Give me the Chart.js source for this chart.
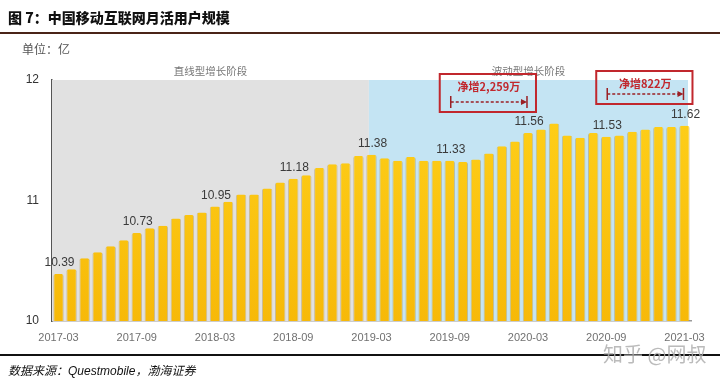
<!DOCTYPE html>
<html lang="zh">
<head>
<meta charset="UTF-8">
<title>中国移动互联网月活用户规模</title>
<style>
    body {
        margin: 0;
        background: #fff;
        font-family: "Noto Sans CJK SC", "Liberation Sans", sans-serif;
    }
    .wrap {
        position: relative;
        width: 720px;
        height: 386px;
        overflow: hidden;
    }
    #mauChart { position: absolute; left: 0; top: 0; }
    .title {
        position: absolute; left: 8px; top: 7px;
        font-size: 14px; font-weight: 900; color: #111;
        font-family: "Noto Sans CJK SC", sans-serif;
    }
    .title-rule {
        position: absolute; left: 0; top: 32px;
        width: 720px; height: 2px; background: #4a2418;
    }
    .unit {
        position: absolute; left: 22px; top: 40px;
        font-size: 12px; color: #555;
    }
    .foot-rule {
        position: absolute; left: 0; top: 354px;
        width: 720px; height: 1.5px; background: #111;
    }
    .source {
        position: absolute; left: 8px; top: 361px;
        font-size: 12px; font-style: italic; color: #111;
    }
    .source b { font-family: "Liberation Sans", sans-serif; font-weight: normal; }
    .mark {
        position: absolute; left: 603px; top: 339px;
        font-size: 20px; color: rgba(175, 175, 175, 0.85);
    }
</style>
<script src="https://cdn.jsdelivr.net/npm/chart.js"></script>
</head>
<body>
<div class="wrap">
    <canvas id="mauChart" width="720" height="386"></canvas>
    <div class="title">图 7：中国移动互联网月活用户规模</div>
    <div class="title-rule"></div>
    <div class="unit">单位：亿</div>
    <div class="foot-rule"></div>
    <div class="source">数据来源：<b>Questmobile</b>，渤海证券</div>
    <div class="mark">知乎 @网叔</div>
</div>

<script>
    // months 2017-03 .. 2021-03
    const months = [
        '2017-03', '2017-04', '2017-05', '2017-06', '2017-07', '2017-08', '2017-09', '2017-10', '2017-11', '2017-12',
        '2018-01', '2018-02', '2018-03', '2018-04', '2018-05', '2018-06', '2018-07', '2018-08', '2018-09', '2018-10',
        '2018-11', '2018-12', '2019-01', '2019-02', '2019-03', '2019-04', '2019-05', '2019-06', '2019-07', '2019-08',
        '2019-09', '2019-10', '2019-11', '2019-12', '2020-01', '2020-02', '2020-03', '2020-04', '2020-05', '2020-06',
        '2020-07', '2020-08', '2020-09', '2020-10', '2020-11', '2020-12', '2021-01', '2021-02', '2021-03'
    ];

    // monthly active users, 亿
    const mau = [
        10.39, 10.43, 10.52, 10.57, 10.62, 10.67, 10.73, 10.77, 10.79, 10.85,
        10.88, 10.90, 10.95, 10.99, 11.05, 11.05, 11.10, 11.15, 11.18, 11.21,
        11.27, 11.30, 11.31, 11.37, 11.38, 11.35, 11.33, 11.36, 11.33, 11.33,
        11.33, 11.32, 11.34, 11.39, 11.45, 11.49, 11.56, 11.59, 11.64, 11.54,
        11.52, 11.56, 11.53, 11.54, 11.57, 11.59, 11.61, 11.61, 11.62
    ];

    // which bars get a value label
    const labelledIdx = [0, 6, 12, 18, 24, 30, 36, 42, 48];

    const yTicks = [10, 11, 12];

    // growth stages (start index of each shaded band)
    const stageNames = ['直线型增长阶段', '波动型增长阶段'];
    const stageStart = [0, 23.8];
    const stageColors = ['#e1e1e1', '#c4e4f3'];

    // net growth call-outs
    const noteFrom = [30, 42];
    const noteTo = [36, 48];
    const noteText = ['净增2,259万', '净增822万'];

    const red = '#c1272d';

    const backdrop = {
        id: 'backdrop',
        beforeDatasetsDraw(chart) {
            const { ctx, chartArea, scales } = chart;
            const x = scales.x;
            const step = x.getPixelForValue(1) - x.getPixelForValue(0);
            const edges = stageStart.map(i => x.getPixelForValue(0) + i * step - (i === 0 ? step / 2 : 0));
            edges.push(chartArea.right - 3);
            ctx.save();
            for (let i = 0; i < stageNames.length; i++) {
                ctx.fillStyle = stageColors[i];
                ctx.fillRect(edges[i], chartArea.top, edges[i + 1] - edges[i], chartArea.bottom - chartArea.top);
                ctx.fillStyle = '#777';
                ctx.font = '10.5px "Noto Sans CJK SC"';
                ctx.textAlign = 'center';
                ctx.textBaseline = 'middle';
                ctx.fillText(stageNames[i], (edges[i] + edges[i + 1]) / 2, chartArea.top - 9);
            }
            ctx.restore();
        }
    };

    const overlay = {
        id: 'overlay',
        afterDatasetsDraw(chart) {
            const { ctx, chartArea, scales } = chart;
            const meta = chart.getDatasetMeta(0);
            ctx.save();

            // value labels
            ctx.fillStyle = '#3a3a3a';
            ctx.font = '12px "Liberation Sans"';
            ctx.textAlign = 'center';
            ctx.textBaseline = 'middle';
            labelledIdx.forEach(i => {
                const bar = meta.data[i];
                ctx.fillText(mau[i].toFixed(2), bar.x + 1, bar.y - 11);
            });

            // call-out boxes
            const top = chartArea.top;
            for (let n = 0; n < noteText.length; n++) {
                const x0 = scales.x.getPixelForValue(noteFrom[n]);
                const x1 = scales.x.getPixelForValue(noteTo[n]);
                const boxTop = n === 0 ? top - 6 : top - 9;
                const boxH = n === 0 ? 38 : 33;
                ctx.strokeStyle = red;
                ctx.lineWidth = 2;
                ctx.strokeRect(x0 - 10, boxTop, (x1 - x0) + 18, boxH);

                ctx.fillStyle = red;
                ctx.font = 'bold 11px "Noto Sans CJK SC"';
                ctx.fillText(noteText[n], (x0 + x1) / 2, boxTop + 13);

                const ly = boxTop + boxH - 10;
                ctx.strokeStyle = '#9b1f24';
                ctx.lineWidth = 1.5;
                ctx.setLineDash([3, 2]);
                ctx.beginPath();
                ctx.moveTo(x0 + 1, ly);
                ctx.lineTo(x1 - 5, ly);
                ctx.stroke();
                ctx.setLineDash([]);
                ctx.beginPath();
                ctx.moveTo(x0 + 1, ly - 6);
                ctx.lineTo(x0 + 1, ly + 6);
                ctx.moveTo(x1 - 1, ly - 6);
                ctx.lineTo(x1 - 1, ly + 6);
                ctx.stroke();
                ctx.fillStyle = '#9b1f24';
                ctx.beginPath();
                ctx.moveTo(x1 - 1, ly);
                ctx.lineTo(x1 - 7, ly - 3);
                ctx.lineTo(x1 - 7, ly + 3);
                ctx.closePath();
                ctx.fill();
            }
            ctx.restore();
        }
    };

    function barFill(context) {
        const area = context.chart.chartArea;
        if (!area) return '#fcc30f';
        const g = context.chart.ctx.createLinearGradient(0, area.top, 0, area.bottom);
        g.addColorStop(0, '#ffd21c');
        g.addColorStop(1, '#f7b908');
        return g;
    }

    new Chart(document.getElementById('mauChart'), {
        type: 'bar',
        data: {
            labels: months,
            datasets: [{
                data: mau,
                backgroundColor: barFill,
                borderColor: 'rgba(170, 140, 60, 0.45)',
                borderWidth: { left: 1, right: 1, top: 0, bottom: 0 },
                borderRadius: { topLeft: 2, topRight: 2 },
                borderSkipped: 'bottom',
                barPercentage: 0.8,
                categoryPercentage: 1
            }]
        },
        options: {
            responsive: false,
            animation: false,
            layout: { padding: { left: 0, right: 29, top: 80, bottom: 35 } },
            plugins: {
                legend: { display: false },
                tooltip: { enabled: false }
            },
            scales: {
                x: {
                    grid: { display: false },
                    border: { display: true, color: '#9a9a9a', width: 1.5 },
                    afterFit: s => { s.height = 30; },
                    ticks: {
                        autoSkip: false,
                        maxRotation: 0,
                        padding: 2,
                        color: '#707070',
                        font: { family: 'Liberation Sans', size: 11 },
                        callback: (v, i) => (i % 6 === 0 ? months[i] : '')
                    }
                },
                y: {
                    min: 10,
                    max: 12,
                    afterFit: s => { s.width = 52; },
                    afterBuildTicks: s => { s.ticks = yTicks.map(v => ({ value: v })); },
                    grid: { display: false },
                    border: { display: true, color: '#555', width: 1.5 },
                    ticks: {
                        padding: 5,
                        color: '#333',
                        font: { family: 'Liberation Sans', size: 12 }
                    }
                }
            }
        },
        plugins: [backdrop, overlay]
    });
</script>
</body>
</html>
